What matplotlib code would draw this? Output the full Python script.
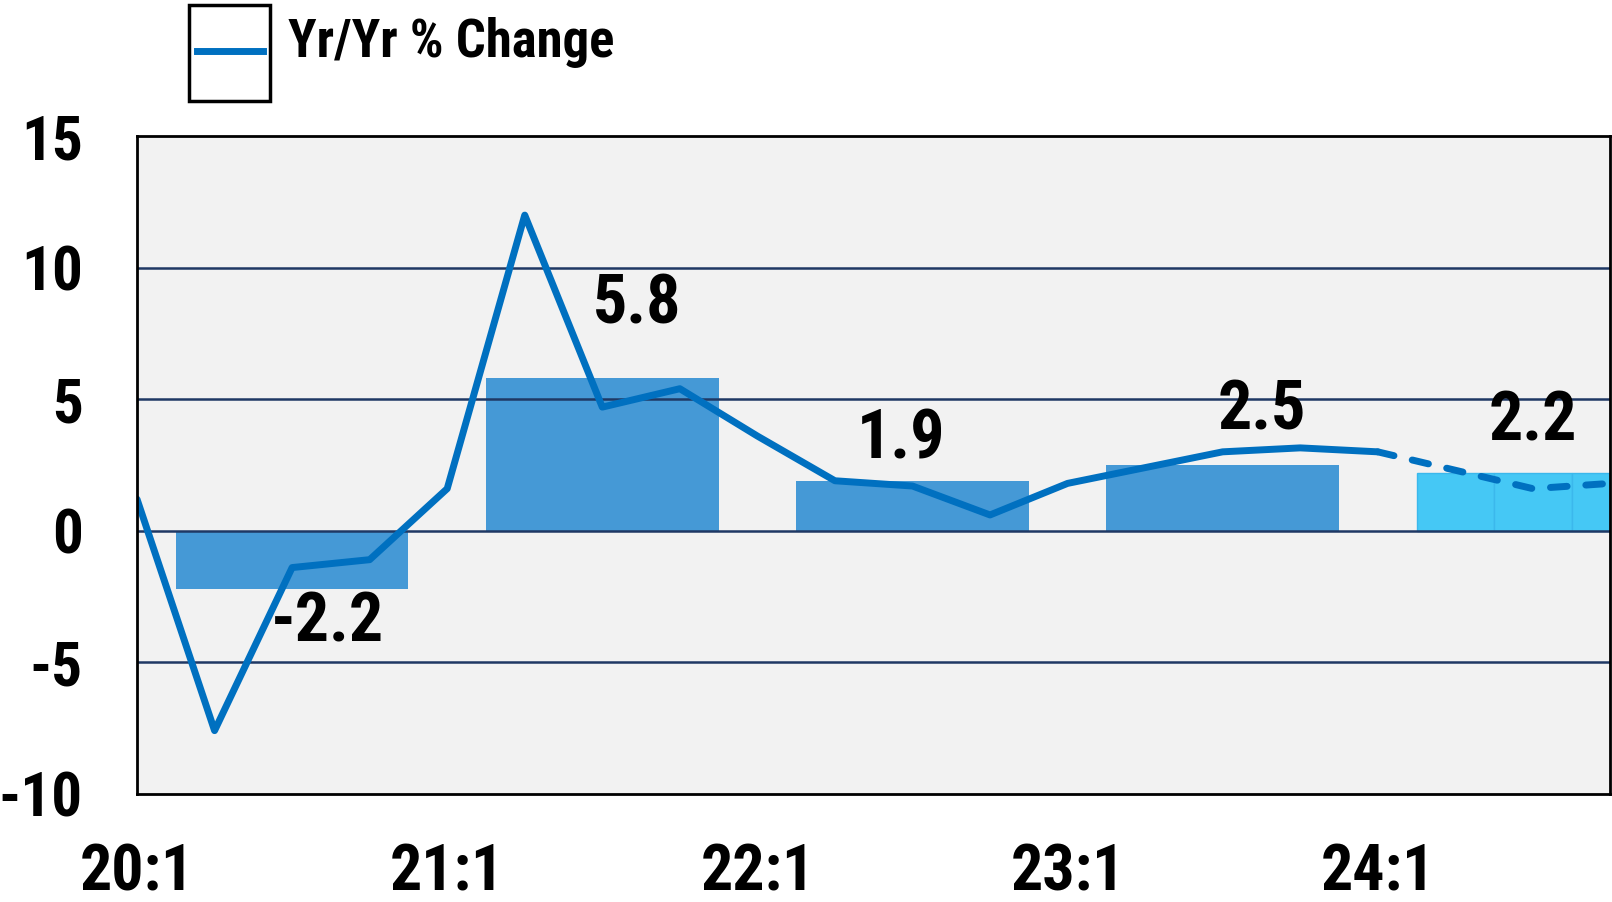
import numpy as np
import matplotlib
matplotlib.use("Agg")
import matplotlib.pyplot as plt
from matplotlib import font_manager
from matplotlib.patches import Rectangle
from matplotlib.lines import Line2D

# quarterly yr/yr % change, 20:1 .. 24:4 (24:2 onward is forecast)
quarters = ["20:1", "20:2", "20:3", "20:4", "21:1", "21:2", "21:3", "21:4",
            "22:1", "22:2", "22:3", "22:4", "23:1", "23:2", "23:3", "23:4",
            "24:1", "24:2", "24:3", "24:4"]
yoy_actual = [1.2, -7.6, -1.4, -1.1, 1.6, 12.0, 4.7, 5.4,
              3.6, 1.9, 1.7, 0.6, 1.8, 2.4, 3.0, 3.15, 3.0]
yoy_forecast = [3.0, 2.3, 1.6, 1.8]  # from 24:1

# annual averages
years = ["2020", "2021", "2022", "2023"]
annual = [-2.2, 5.8, 1.9, 2.5]
annual_fc = 2.2
annual_labels = ["-2.2", "5.8", "1.9", "2.5", "2.2"]
label_dx = [0.45, 0.45, -0.15, 0.5, 0.0]
label_y = [-3.5, 8.6, 3.45, 4.55, 4.15]

tick_labels = ["20:1", "21:1", "22:1", "23:1", "24:1"]

# pick a narrow sans that has a real bold face
bold_names = {f.name for f in font_manager.fontManager.ttflist
              if isinstance(f.weight, int) and f.weight >= 700}
candidates = ["Liberation Sans Narrow", "Arimo Narrow", "Archivo Narrow",
              "Roboto Condensed", "PT Sans Narrow", "Fira Sans Condensed",
              "IBM Plex Sans Condensed", "Encode Sans Condensed", "Asap Condensed",
              "Barlow Semi Condensed", "Barlow Condensed", "Fira Sans Extra Condensed",
              "Saira SemiCondensed"]
narrow = [n for n in candidates if n in bold_names]
FONT = narrow[:1] + ["DejaVu Sans"]
plt.rcParams['font.family'] = FONT
plt.rcParams['font.weight'] = 'bold'

fig = plt.figure(figsize=(16.12, 9.02), dpi=100)
ax = fig.add_axes([0.085, 0.12, 0.914, 0.729])
ax.set_facecolor("#F2F2F2")

x = np.arange(len(quarters))

# annual bars: centred on 2nd/3rd quarter boundary of each year
bar_x = np.arange(len(years)) * 4 + 2
ax.bar(bar_x, annual, width=3, color="#4599D6", zorder=2)
fc_x = np.array([17, 18, 19])
ax.bar(fc_x, [annual_fc] * 3, width=1, color="#45C8F5", edgecolor="#3BB8EC",
       linewidth=1, zorder=2)

ax.plot(x[:len(yoy_actual)], yoy_actual, color="#0070C0", lw=5, zorder=4,
        solid_joinstyle="round", solid_capstyle="round")
ax.plot(x[16:], yoy_forecast, color="#0070C0", lw=5, zorder=4,
        linestyle=(0, (2.4, 2.7)), dash_capstyle="round")

all_centres = list(bar_x) + [18]
for cx, dx, ly, txt in zip(all_centres, label_dx, label_y, annual_labels):
    ax.text(cx + dx, ly, txt, ha="center", va="center", fontsize=49,
            fontweight="bold", color="black", zorder=5)

ax.set_xlim(0, 19)
ax.set_ylim(-10, 15)
ax.set_yticks([-10, -5, 0, 5, 10, 15])
ax.set_yticklabels(["-10", "-5", "0", "5", "10", "15"])
ax.set_xticks([0, 4, 8, 12, 16])
ax.set_xticklabels(tick_labels)
ax.tick_params(length=0)
ax.tick_params(axis="y", pad=39, labelsize=44)
ax.tick_params(axis="x", pad=35, labelsize=46)
for lbl in ax.get_xticklabels() + ax.get_yticklabels():
    lbl.set_fontweight("bold")

for yv in [-5, 0, 5, 10]:
    ax.axhline(yv, color="#1F3864", lw=1.8, zorder=3)

for s in ax.spines.values():
    s.set_color("black")
    s.set_linewidth(2)
    s.set_zorder(6)

# legend box with handle only, label outside
fig.patches.append(Rectangle((189 / 1612, 1 - 101 / 902), 81 / 1612, 96 / 902,
                             transform=fig.transFigure, fill=False,
                             edgecolor="black", linewidth=2.5))
fig.lines.append(Line2D([197 / 1612, 263 / 1612], [1 - 51 / 902, 1 - 51 / 902],
                        transform=fig.transFigure, color="#0070C0", lw=5))
fig.text(288 / 1612, 1 - 43 / 902, "Yr/Yr % Change", ha="left", va="center",
         fontsize=38, fontweight="bold", color="black")

fig.savefig("out.png", dpi=100)
